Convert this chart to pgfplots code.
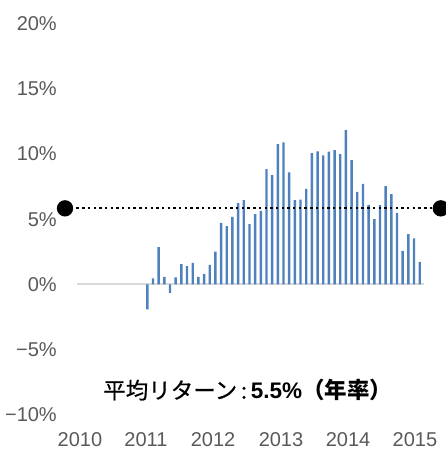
\documentclass[border=0pt]{standalone}
\usepackage{fontspec}
\setmainfont{Liberation Sans}
\newfontfamily\cjk{Noto Sans CJK JP}
\newfontfamily\cjkm[FakeBold=0.6]{Noto Sans CJK JP}
\usepackage{pgfplots}
\pgfplotsset{compat=1.18}
\definecolor{barblue}{HTML}{4F81BD}
\definecolor{ticktext}{HTML}{595959}
\definecolor{zeroline}{HTML}{D9D9D9}
\begin{document}
\begin{tikzpicture}
\begin{axis}[
  scale only axis,
  x=5.675pt, y=13.04pt,
  xmin=-11.39, xmax=49.76,
  ymin=-10, ymax=20,
  clip=false,
  axis line style={draw=none},
  major tick length=0pt,
  ytick={-10,-5,0,5,10,15,20},
  yticklabels={−10\%,−5\%,0\%,5\%,10\%,15\%,20\%},
  xtick={-10.86,0.77,12.58,24.56,36.37,48.17},
  xticklabels={2010,2011,2012,2013,2014,2015},
  tick label style={font=\fontsize{20}{22}\selectfont, text=ticktext},
  yticklabel style={anchor=east, inner sep=0pt, xshift=-20pt},
  xticklabel style={anchor=north, inner sep=0pt, yshift=-17pt},
]
\addplot[draw=zeroline, line width=2pt, forget plot] coordinates {(-11.39,0) (49.76,0)};
\addplot[ybar, bar width=2.4pt, fill=barblue, draw=none] coordinates {
(1,-1.9) (2,0.46) (3,2.86) (4,0.59) (5,-0.64) (6,0.54) (7,1.56) (8,1.41)
(9,1.66) (10,0.59) (11,0.82) (12,1.51) (13,2.53) (14,4.73) (15,4.48) (16,5.19)
(17,6.24) (18,6.47) (19,4.63) (20,5.40) (21,5.65) (22,8.85) (23,8.39) (24,10.77)
(25,10.9) (26,8.59) (27,6.47) (28,6.5) (29,7.34) (30,10.08) (31,10.2) (32,9.9)
(33,10.18) (34,10.31) (35,10.0) (36,11.84) (37,9.54) (38,7.11) (39,7.72) (40,6.11)
(41,5.01) (42,6.09) (43,7.54) (44,6.93) (45,5.5) (46,2.58) (47,3.86) (48,3.53)
(49,1.74)};
\addplot[black, line width=2.3pt, dash pattern=on 2.4pt off 3.3pt, mark=*, mark size=7pt,
  mark options={solid, fill=black}] coordinates {(-13.5,5.84) (52.72,5.84)};
\node[font=\fontsize{22.5}{26}\selectfont, anchor=center, inner sep=0pt]
  at (axis cs:18.7,-8.1) {{\cjkm 平均リターン\,:\,}{\bfseries 5.5\%}{\cjk\bfseries （年率）}};
\coordinate (o) at (axis cs:1,0);
\end{axis}
\pgfresetboundingbox
\path (o) ++(-147.3pt,-170.5pt) rectangle ++(446pt,455pt);
\end{tikzpicture}
\end{document}
